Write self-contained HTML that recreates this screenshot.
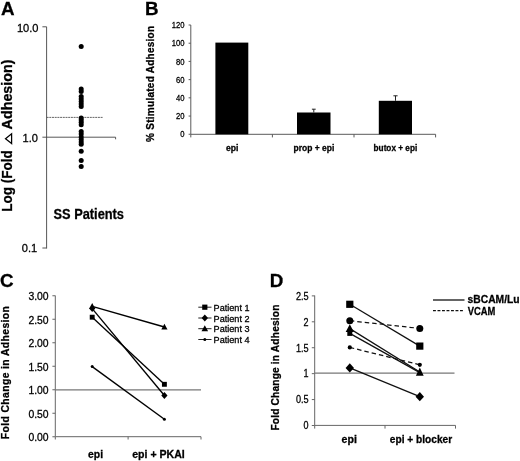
<!DOCTYPE html><html><head><meta charset="utf-8"><style>html,body{margin:0;padding:0;background:#fff}svg{display:block;will-change:transform}text{font-family:"Liberation Sans",sans-serif;fill:#000;stroke:#000;stroke-width:0.28px}</style></head><body>
<svg width="520" height="461" viewBox="0 0 520 461">
<rect width="520" height="461" fill="#fff"/>
<g font-weight="bold" font-size="18.8">
<text x="0.9" y="14.6">A</text><text x="145.1" y="14.6">B</text><text x="0" y="286.7">C</text><text x="269.8" y="286.5">D</text></g>
<g stroke="#444" stroke-width="0.9" fill="none">
<path d="M46.6 26.8V248.5M42.4 26.8H46.6M42.4 248H46.6M42.4 137.2H115.6V139.3"/>
<path d="M46.6 117.4H103" stroke-dasharray="2 0.7" stroke="#555"/>
</g>
<g font-size="11.8" text-anchor="end" stroke="#000" stroke-width="0.3"><text x="38.5" y="31.5" lengthAdjust="spacingAndGlyphs" textLength="21.6">10.0</text><text x="38" y="141.8" lengthAdjust="spacingAndGlyphs" textLength="15.4">1.0</text><text x="37.2" y="252.2" lengthAdjust="spacingAndGlyphs" textLength="15.4">0.1</text></g>
<circle cx="81.2" cy="46.5" r="2.5"/>
<circle cx="81.2" cy="89" r="2.5"/>
<circle cx="81.2" cy="91.5" r="2.5"/>
<circle cx="81.2" cy="96.5" r="2.5"/>
<circle cx="81.2" cy="99" r="2.5"/>
<circle cx="81.2" cy="101.5" r="2.5"/>
<circle cx="81.2" cy="104" r="2.5"/>
<circle cx="81.2" cy="106.5" r="2.5"/>
<circle cx="81.2" cy="118" r="2.5"/>
<circle cx="81.2" cy="120" r="2.5"/>
<circle cx="81.2" cy="122.3" r="2.5"/>
<circle cx="81.2" cy="124.8" r="2.5"/>
<circle cx="81.2" cy="131.5" r="2.5"/>
<circle cx="81.2" cy="134" r="2.5"/>
<circle cx="81.2" cy="137" r="2.5"/>
<circle cx="81.2" cy="139.5" r="2.5"/>
<circle cx="81.2" cy="142" r="2.5"/>
<circle cx="81.2" cy="144.3" r="2.5"/>
<circle cx="81.2" cy="151.2" r="2.5"/>
<circle cx="81.2" cy="160.5" r="2.5"/>
<circle cx="81.2" cy="166.5" r="2.5"/>
<text x="53.5" y="219.2" font-size="14" font-weight="bold" textLength="70.5" lengthAdjust="spacingAndGlyphs">SS Patients</text>
<g transform="translate(11.8,211.8) rotate(-90)" font-size="14.6" font-weight="bold"><text x="0" y="0" lengthAdjust="spacingAndGlyphs" textLength="61.6">Log (Fold</text><text x="82.4" y="0" lengthAdjust="spacingAndGlyphs" textLength="69.9">Adhesion)</text><path d="M68.2 -0.2L73.1 -6.3L78 -0.2Z" fill="none" stroke="#000" stroke-width="1.25"/></g>
<g stroke="#5a5a5a" stroke-width="1" fill="none">
<path d="M190.8 25V134.3H435.6V137.4M272.4 134.3V137.4M354 134.3V137.4M190.8 134.3V137.4M188.6 25.00H190.8M188.6 43.21H190.8M188.6 61.42H190.8M188.6 79.63H190.8M188.6 97.84H190.8M188.6 116.05H190.8M188.6 134.26H190.8"/></g>
<g font-size="8.7" text-anchor="end" stroke="#000" stroke-width="0.3">
<text x="184.4" y="28.20" lengthAdjust="spacingAndGlyphs" textLength="12.75">120</text>
<text x="184.4" y="46.41" lengthAdjust="spacingAndGlyphs" textLength="12.75">100</text>
<text x="184.4" y="64.62" lengthAdjust="spacingAndGlyphs" textLength="8.50">80</text>
<text x="184.4" y="82.83" lengthAdjust="spacingAndGlyphs" textLength="8.50">60</text>
<text x="184.4" y="101.04" lengthAdjust="spacingAndGlyphs" textLength="8.50">40</text>
<text x="184.4" y="119.25" lengthAdjust="spacingAndGlyphs" textLength="8.50">20</text>
<text x="184.4" y="137.46" lengthAdjust="spacingAndGlyphs" textLength="4.25">0</text>
</g>
<rect x="215.4" y="42.6" width="32.9" height="91.7"/><rect x="297" y="112.5" width="33.5" height="21.8"/><rect x="378.8" y="100.8" width="33.2" height="33.5"/>
<path d="M313.8 112.5V109.2M311.9 109.2H315.7M395.5 100.8V95.8M393.4 95.8H397.6" stroke="#222" stroke-width="1" fill="none"/>
<g font-size="8.6" font-weight="bold" text-anchor="middle"><text x="232.2" y="150.6">epi</text><text x="314" y="150.6" lengthAdjust="spacingAndGlyphs" textLength="40.8">prop + epi</text><text x="395.4" y="150.6" lengthAdjust="spacingAndGlyphs" textLength="43.6">butox + epi</text></g>
<text transform="translate(153.9,141.9) rotate(-90)" font-size="10" font-weight="bold" textLength="116" lengthAdjust="spacing">% Stimulated Adhesion</text>
<g stroke="#666" stroke-width="1" fill="none">
<path d="M55.3 295.5V436.7H201V439.5M128.1 436.7V439.5M55.3 436.7V439.5M52.4 436.75H55.2M52.4 413.25H55.2M52.4 389.75H55.2M52.4 366.25H55.2M52.4 342.75H55.2M52.4 319.25H55.2M52.4 295.75H55.2"/><path d="M55.2 389.8H201" stroke="#777" stroke-width="1.2"/></g>
<g font-size="10.7" text-anchor="end">
<text x="48.6" y="441.35" textLength="20.2" lengthAdjust="spacingAndGlyphs">0.00</text>
<text x="48.6" y="417.85" textLength="20.2" lengthAdjust="spacingAndGlyphs">0.50</text>
<text x="48.6" y="394.35" textLength="20.2" lengthAdjust="spacingAndGlyphs">1.00</text>
<text x="48.6" y="370.85" textLength="20.2" lengthAdjust="spacingAndGlyphs">1.50</text>
<text x="48.6" y="347.35" textLength="20.2" lengthAdjust="spacingAndGlyphs">2.00</text>
<text x="48.6" y="323.85" textLength="20.2" lengthAdjust="spacingAndGlyphs">2.50</text>
<text x="48.6" y="300.35" textLength="20.2" lengthAdjust="spacingAndGlyphs">3.00</text>
</g>
<g stroke="#000" stroke-width="1.35" fill="none">
<path d="M92.2 317.2L164.4 384.3"/>
<path d="M92.2 308.6L164.4 395.5"/>
<path d="M92.2 306.3L164.4 327"/>
<path d="M92.2 366.6L164.4 419.2"/>
</g>
<rect x="89.75" y="314.75" width="4.9" height="4.9"/><rect x="161.95" y="381.85" width="4.9" height="4.9"/>
<path d="M89.10000000000001 308.6L92.2 305.19L95.3 308.6L92.2 312.01Z"/><path d="M161.3 395.5L164.4 392.09L167.5 395.5L164.4 398.91Z"/>
<path d="M89.10000000000001 308.78000000000003L92.2 303.045L95.3 308.78000000000003Z"/><path d="M161.3 329.48L164.4 323.745L167.5 329.48Z"/>
<circle cx="92.2" cy="366.6" r="1.5"/><circle cx="164.4" cy="419.2" r="1.5"/>
<g stroke="#222" stroke-width="1" fill="none">
<path d="M198.3 307.2H211.5"/>
<path d="M198.3 318H211.5"/>
<path d="M198.3 328.7H211.5"/>
<path d="M198.3 339.5H211.5"/>
</g>
<rect x="202.20" y="304.60" width="5.2" height="5.2"/><path d="M201.60000000000002 318L204.8 314.48L208.0 318L204.8 321.52Z"/><path d="M201.5 331.34L204.8 325.235L208.10000000000002 331.34Z"/><circle cx="204.8" cy="339.5" r="1.5"/>
<g font-size="9.1">
<text x="213.6" y="310.80">Patient 1</text>
<text x="213.6" y="321.60">Patient 2</text>
<text x="213.6" y="332.30">Patient 3</text>
<text x="213.6" y="343.10">Patient 4</text>
</g>
<g font-size="10.4" font-weight="bold" text-anchor="middle"><text x="95.6" y="458">epi</text><text x="158.5" y="458" lengthAdjust="spacingAndGlyphs" textLength="52.6">epi + PKAI</text></g>
<text transform="translate(9.3,439.2) rotate(-90)" font-size="10.4" font-weight="bold" textLength="133.1" lengthAdjust="spacing">Fold Change in Adhesion</text>
<g stroke="#666" stroke-width="1" fill="none">
<path d="M314.7 295.5V425.4H455.5V428.6M385 425.4V428.6M314.7 425.4V428.6M311.8 425.50H314.7M311.8 399.57H314.7M311.8 373.65H314.7M311.8 347.73H314.7M311.8 321.80H314.7M311.8 295.88H314.7"/><path d="M314.5 373.2H454.5" stroke="#777" stroke-width="1.2"/></g>
<g font-size="10.4" text-anchor="end">
<text x="308.6" y="429.30" lengthAdjust="spacingAndGlyphs" textLength="5.0">0</text>
<text x="308.6" y="403.38" lengthAdjust="spacingAndGlyphs" textLength="12.7">0.5</text>
<text x="308.6" y="377.45" lengthAdjust="spacingAndGlyphs" textLength="5.0">1</text>
<text x="308.6" y="351.53" lengthAdjust="spacingAndGlyphs" textLength="12.7">1.5</text>
<text x="308.6" y="325.60" lengthAdjust="spacingAndGlyphs" textLength="5.0">2</text>
<text x="308.6" y="299.68" lengthAdjust="spacingAndGlyphs" textLength="12.7">2.5</text>
</g>
<path d="M349.8 304.3L419.8 346.1" stroke="#111" stroke-width="1.25" fill="none"/>
<path d="M349.8 320.7L419.8 328.4" stroke="#111" stroke-width="1.25" fill="none" stroke-dasharray="4.5 3"/>
<path d="M349.8 328.6L419.8 372.0" stroke="#111" stroke-width="1.25" fill="none"/>
<path d="M349.8 333.4L419.8 372.6" stroke="#111" stroke-width="1.25" fill="none"/>
<path d="M349.8 347.4L419.8 364.8" stroke="#111" stroke-width="1.25" fill="none" stroke-dasharray="4.5 3"/>
<path d="M349.8 367.9L419.8 396.7" stroke="#111" stroke-width="1.25" fill="none"/>
<rect x="346.20" y="300.70" width="7.2" height="7.2"/><rect x="416.20" y="342.50" width="7.2" height="7.2"/>
<circle cx="349.8" cy="320.7" r="3.5"/><circle cx="419.8" cy="328.4" r="3.5"/>
<path d="M345.7 331.88L349.8 324.295L353.90000000000003 331.88Z"/><path d="M415.90000000000003 375.7L419.8 367.4L423.7 375.7Z"/>
<rect x="347.30" y="330.90" width="5" height="5"/>
<circle cx="349.8" cy="347.4" r="2.1"/><circle cx="419.8" cy="364.8" r="2.1"/>
<path d="M345.6 367.9L349.8 363.28L354.0 367.9L349.8 372.52Z"/><path d="M415.6 396.7L419.8 392.08L424.0 396.7L419.8 401.32Z"/>
<path d="M433 300H464.5" stroke="#111" stroke-width="1.3"/><path d="M433 310.6H464.5" stroke="#111" stroke-width="1.1" stroke-dasharray="2.9 1.6"/>
<g font-size="10.5" font-weight="bold"><text x="467.6" y="303.4" textLength="52" lengthAdjust="spacingAndGlyphs">sBCAM/Lu</text><text x="467.8" y="314.5" textLength="27.6" lengthAdjust="spacingAndGlyphs">VCAM</text></g>
<g font-size="10" font-weight="bold" text-anchor="middle"><text x="349.2" y="443" textLength="15.3" lengthAdjust="spacingAndGlyphs">epi</text><text x="421" y="443" lengthAdjust="spacingAndGlyphs" textLength="62.4">epi + blocker</text></g>
<text transform="translate(279,430.6) rotate(-90)" font-size="10.2" font-weight="bold" textLength="126" lengthAdjust="spacing">Fold Change in Adhesion</text>
</svg></body></html>
